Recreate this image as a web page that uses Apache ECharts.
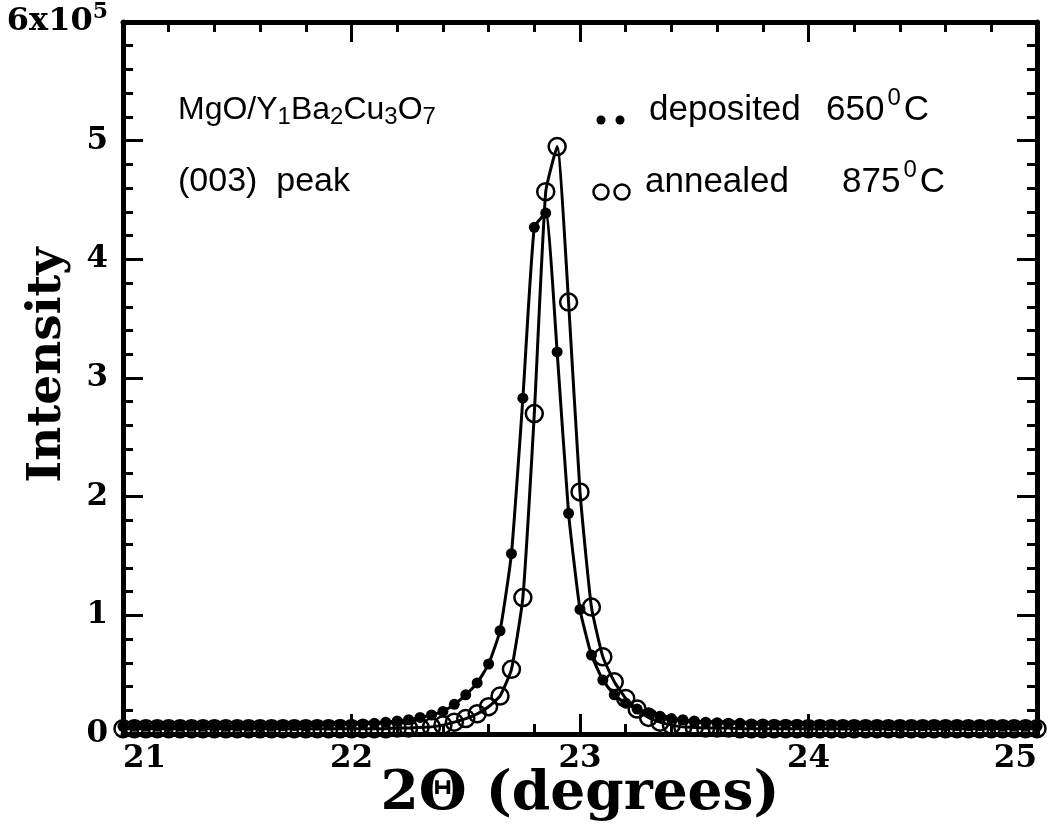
<!DOCTYPE html>
<html>
<head>
<meta charset="utf-8">
<script src="https://cdn.jsdelivr.net/npm/echarts@6/dist/echarts.min.js"></script>
<style>
html,body{margin:0;padding:0;background:#fff;}
#chart{width:1051px;height:830px;}
</style>
</head>
<body>
<div id="chart"></div>
<script>
// 2-theta positions (degrees)
const theta = [
  21.00,21.05,21.10,21.15,21.20,21.25,21.30,21.35,21.40,21.45,
  21.50,21.55,21.60,21.65,21.70,21.75,21.80,21.85,21.90,21.95,
  22.00,22.05,22.10,22.15,22.20,22.25,22.30,22.35,22.40,22.45,
  22.50,22.55,22.60,22.65,22.70,22.75,22.80,22.85,22.90,22.95,
  23.00,23.05,23.10,23.15,23.20,23.25,23.30,23.35,23.40,23.45,
  23.50,23.55,23.60,23.65,23.70,23.75,23.80,23.85,23.90,23.95,
  24.00,24.05,24.10,24.15,24.20,24.25,24.30,24.35,24.40,24.45,
  24.50,24.55,24.60,24.65,24.70,24.75,24.80,24.85,24.90,24.95,
  25.00
];
// Intensity in units of 10^5 — deposited 650 C (filled dots)
const depositedE5 = [
  0.065,0.065,0.065,0.065,0.065,0.065,0.065,0.065,0.065,0.065,
  0.065,0.065,0.065,0.065,0.07,0.07,0.07,0.075,0.075,0.08,
  0.08,0.085,0.09,0.10,0.11,0.12,0.14,0.16,0.19,0.25,
  0.33,0.43,0.59,0.87,1.52,2.83,4.27,4.39,3.22,1.86,
  1.05,0.665,0.455,0.33,0.26,0.21,0.18,0.15,0.13,0.12,
  0.11,0.10,0.095,0.09,0.09,0.085,0.085,0.08,0.08,0.08,
  0.075,0.075,0.075,0.075,0.07,0.07,0.07,0.07,0.07,0.07,
  0.07,0.07,0.07,0.07,0.07,0.07,0.07,0.065,0.065,0.065,
  0.065
];
// Intensity in units of 10^5 — annealed 875 C (open circles)
const annealedE5 = [
  0.045,0.045,0.045,0.045,0.045,0.045,0.045,0.045,0.045,0.045,
  0.045,0.045,0.045,0.045,0.045,0.045,0.045,0.045,0.045,0.045,
  0.045,0.045,0.045,0.045,0.05,0.05,0.055,0.06,0.075,0.10,
  0.13,0.17,0.23,0.32,0.545,1.15,2.70,4.57,4.95,3.64,
  2.04,1.07,0.65,0.44,0.30,0.21,0.14,0.10,0.075,0.06,
  0.055,0.05,0.05,0.05,0.045,0.045,0.045,0.045,0.045,0.045,
  0.045,0.045,0.045,0.045,0.045,0.045,0.045,0.045,0.045,0.045,
  0.045,0.045,0.045,0.045,0.045,0.045,0.045,0.045,0.045,0.045,
  0.045
];
const xTicks = [21, 22, 23, 24, 25];
const yTickLabels = ['0', '1', '2', '3', '4', '5', '{a|6x10}{s|5}'];

const SERIF = '"DejaVu Serif", serif';
const SANS = '"Liberation Sans", Arial, sans-serif';

const chart = echarts.init(document.getElementById('chart'), null, {renderer: 'canvas'});

function axisBase(extra) {
  return Object.assign({
    axisLine: {show: true, onZero: false, lineStyle: {color: '#000', width: 5}},
    axisTick: {show: true, inside: true, length: 20, lineStyle: {color: '#000', width: 3}},
    minorTick: {show: true, splitNumber: 5, length: 10, lineStyle: {color: '#000', width: 3}},
    splitLine: {show: false},
    minorSplitLine: {show: false},
    nameMoveOverlap: false
  }, extra);
}

const option = {
  animation: false,
  backgroundColor: '#fff',
  grid: {left: 123, right: 14, top: 22, bottom: 96, containLabel: false, outerBoundsMode: 'none'},
  xAxis: [
    axisBase({
      type: 'value', min: xTicks[0], max: xTicks[xTicks.length - 1], interval: 1, position: 'bottom',
      axisLabel: {
        show: true, margin: 9, color: '#000', fontFamily: SERIF, fontWeight: 'bold', fontSize: 31,
        alignMinLabel: 'left', alignMaxLabel: 'right',
        formatter: v => String(v)
      },
      name: '2\u0398 (degrees)', nameLocation: 'middle', nameGap: 33,
      nameTextStyle: {color: '#000', fontFamily: SERIF, fontWeight: 'bold', fontSize: 55}
    }),
    axisBase({
      type: 'value', min: xTicks[0], max: xTicks[xTicks.length - 1], interval: 1, position: 'top',
      axisLabel: {show: false}
    })
  ],
  yAxis: [
    axisBase({
      type: 'value', min: 0, max: 6, interval: 1, position: 'left',
      axisLabel: {
        show: true, margin: 15, color: '#000', fontFamily: SERIF, fontWeight: 'bold', fontSize: 31,
        formatter: (v) => yTickLabels[Math.round(v)],
        rich: {
          a: {fontFamily: SERIF, fontWeight: 'bold', fontSize: 32, color: '#000', verticalAlign: 'middle'},
          s: {fontFamily: SERIF, fontWeight: 'bold', fontSize: 22, color: '#000', verticalAlign: 'middle', padding: [0, 0, 20, 0]}
        }
      },
      name: 'Intensity', nameLocation: 'middle', nameGap: 52, nameRotate: 90,
      nameTextStyle: {color: '#000', fontFamily: SERIF, fontWeight: 'bold', fontSize: 47, padding: [0, 0, 0, 26]}
    }),
    axisBase({
      type: 'value', min: 0, max: 6, interval: 1, position: 'right',
      axisLabel: {show: false}
    })
  ],
  series: [
    {
      name: 'annealed 875C', type: 'line', xAxisIndex: 0, yAxisIndex: 0,
      data: theta.map((t, i) => [t, annealedE5[i]]),
      smooth: 0.15,
      symbol: 'circle', symbolSize: 17, showSymbol: true,
      itemStyle: {color: 'rgba(0,0,0,0)', borderColor: '#000', borderWidth: 2.5},
      lineStyle: {color: '#000', width: 3},
      emphasis: {disabled: true}, silent: true, z: 2
    },
    {
      name: 'deposited 650C', type: 'line', xAxisIndex: 0, yAxisIndex: 0,
      data: theta.map((t, i) => [t, depositedE5[i]]),
      smooth: 0.15,
      symbol: 'circle', symbolSize: 11, showSymbol: true,
      itemStyle: {color: '#000'},
      lineStyle: {color: '#000', width: 3},
      emphasis: {disabled: true}, silent: true, z: 3
    }
  ],
  graphic: [
    {
      type: 'text', x: 178, y: 110, silent: true,
      style: {
        text: '{m|MgO/Y}{b|1}{m|Ba}{b|2}{m|Cu}{b|3}{m|O}{b|7}',
        fill: '#000', verticalAlign: 'middle', align: 'left',
        rich: {
          m: {fontFamily: SANS, fontSize: 32, fill: '#000', verticalAlign: 'middle'},
          b: {fontFamily: SANS, fontSize: 24, fill: '#000', verticalAlign: 'middle', padding: [14, 0, 0, 0]}
        }
      }
    },
    {
      type: 'text', x: 178, y: 182, silent: true,
      style: {text: '(003)  peak', fontFamily: SANS, fontSize: 34, fill: '#000', verticalAlign: 'middle', align: 'left'}
    },
    {type: 'circle', silent: true, shape: {cx: 601, cy: 120, r: 4.5}, style: {fill: '#000'}},
    {type: 'circle', silent: true, shape: {cx: 620, cy: 120, r: 4.5}, style: {fill: '#000'}},
    {
      type: 'text', x: 649, y: 110, silent: true,
      style: {text: 'deposited', fontFamily: SANS, fontSize: 35, fill: '#000', verticalAlign: 'middle', align: 'left'}
    },
    {
      type: 'text', x: 826, y: 110, silent: true,
      style: {
        text: '{m|650}{p|0}{m|C}', fill: '#000', verticalAlign: 'middle', align: 'left',
        rich: {
          m: {fontFamily: SANS, fontSize: 35, fill: '#000', verticalAlign: 'middle'},
          p: {fontFamily: SANS, fontSize: 24, fill: '#000', verticalAlign: 'middle', padding: [0, 3, 24, 3]}
        }
      }
    },
    {type: 'circle', silent: true, shape: {cx: 601, cy: 192, r: 7.5}, style: {fill: 'none', stroke: '#000', lineWidth: 2.5}},
    {type: 'circle', silent: true, shape: {cx: 622, cy: 192, r: 7.5}, style: {fill: 'none', stroke: '#000', lineWidth: 2.5}},
    {
      type: 'text', x: 645, y: 182, silent: true,
      style: {text: 'annealed', fontFamily: SANS, fontSize: 35, fill: '#000', verticalAlign: 'middle', align: 'left'}
    },
    {
      type: 'text', x: 842, y: 182, silent: true,
      style: {
        text: '{m|875}{p|0}{m|C}', fill: '#000', verticalAlign: 'middle', align: 'left',
        rich: {
          m: {fontFamily: SANS, fontSize: 35, fill: '#000', verticalAlign: 'middle'},
          p: {fontFamily: SANS, fontSize: 24, fill: '#000', verticalAlign: 'middle', padding: [0, 3, 24, 3]}
        }
      }
    }
  ]
};
chart.setOption(option);
</script>
</body>
</html>
